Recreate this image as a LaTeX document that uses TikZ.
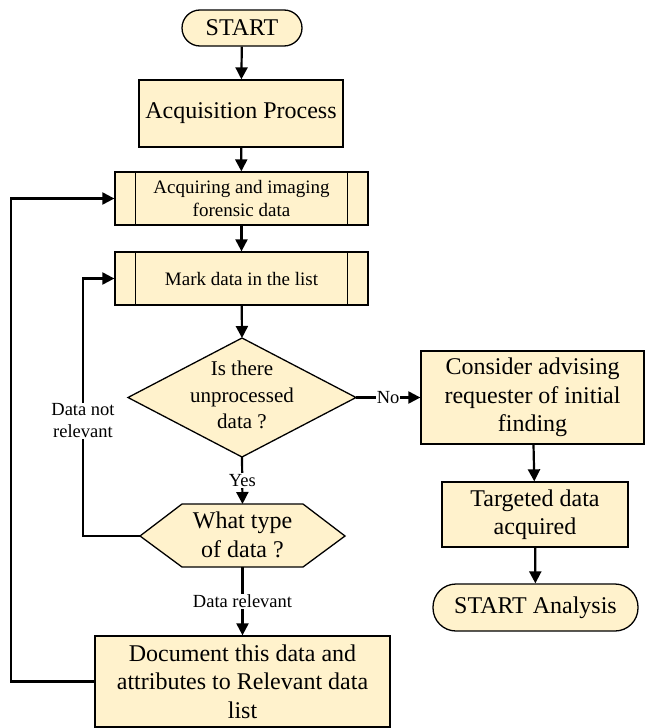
\documentclass[tikz,border=0pt]{standalone}
\usepackage{fontspec}
\setmainfont{Liberation Serif}
\newfontfamily\tnr{Liberation Serif}
\usetikzlibrary{arrows.meta,calc}
\definecolor{boxfill}{HTML}{FFF2CC}
\begin{document}
\begin{tikzpicture}[x=1pt,y=-1pt,
  box/.style={draw=black, line width=1.3pt, fill=boxfill, align=center, inner sep=0pt},
  bigtext/.style={font=\tnr\fontsize{24}{28.5}\selectfont},
  midtext/.style={font=\tnr\fontsize{21}{26.5}\selectfont},
  smalltext/.style={font=\tnr\fontsize{19}{23}\selectfont},
  conn/.style={line width=2.2pt, -{Triangle[length=12pt,width=12pt]}},
  lbl/.style={fill=white, inner sep=1pt, align=center, font=\tnr\fontsize{18.5}{22}\selectfont},
  predef/.style={line width=1.3pt}
]
\useasboundingbox (0,0) rectangle (645,728);

% terminal and processes
\node[box, bigtext, rounded corners=18pt, minimum width=120pt, minimum height=36pt] (start) at (242,28) {START};
\node[box, bigtext, minimum width=204pt, minimum height=67pt] (acq) at (241,113.5) {Acquisition Process};
\node[box, smalltext, minimum width=253pt, minimum height=53pt] (img) at (241.5,198.5) {Acquiring and imaging\\forensic data};
\draw[predef] ([xshift=21pt]img.north west) -- ([xshift=21pt]img.south west);
\draw[predef] ([xshift=-21pt]img.north east) -- ([xshift=-21pt]img.south east);
\node[box, smalltext, minimum width=253pt, minimum height=53pt] (mark) at (241.5,278.5) {Mark data in the list};
\draw[predef] ([xshift=21pt]mark.north west) -- ([xshift=21pt]mark.south west);
\draw[predef] ([xshift=-21pt]mark.north east) -- ([xshift=-21pt]mark.south east);

% decision diamond
\coordinate (dT) at (242,338);
\coordinate (dR) at (356,397.5);
\coordinate (dB) at (242,457);
\coordinate (dL) at (128,397.5);
\draw[box] (dT) -- (dR) -- (dB) -- (dL) -- cycle;
\node[midtext, align=center, inner sep=0pt] (dec) at (242,395) {Is there\\unprocessed\\data ?};

% hexagon
\coordinate (hL) at (140,536);
\coordinate (hTL) at (182,504);
\coordinate (hT) at (242.5,504);
\coordinate (hTR) at (303,504);
\coordinate (hR) at (345,536);
\coordinate (hBR) at (303,567);
\coordinate (hB) at (242.5,567);
\coordinate (hBL) at (182,567);
\draw[box] (hL) -- (hTL) -- (hTR) -- (hR) -- (hBR) -- (hBL) -- cycle;
\node[bigtext, align=center, inner sep=0pt] (hex) at (242.5,535) {What type\\of data ?};

% right column
\node[box, bigtext, minimum width=223pt, minimum height=93pt] (cons) at (532.5,397.5) {Consider advising\\requester of initial\\finding};
\node[box, bigtext, minimum width=186pt, minimum height=65pt] (targ) at (535,514.5) {Targeted data\\acquired};
\node[box, bigtext, rounded corners=23pt, minimum width=205pt, minimum height=47pt] (end) at (535.5,607.5) {START Analysis};

% document box
\node[box, bigtext, minimum width=295pt, minimum height=91pt] (doc) at (242.5,681.5) {Document this data and\\attributes to Relevant data\\list};

% connectors
\draw[conn] (start) -- (acq);
\draw[conn] (acq) -- (img);
\draw[conn] (img) -- (mark);
\draw[conn] (mark) -- (dT);
\draw[conn] (dR) -- (cons.west) node[lbl, midway] {No};
\draw[conn] (dB) -- (hT) node[lbl, midway] {Yes};
\draw[conn] (hB) -- (doc.north) node[lbl, midway] {Data relevant};
\draw[conn] (cons) -- (targ);
\draw[conn] (targ) -- (end);
\draw[conn] (hL) -- ++(-57,0) |- (mark.west);
\node[lbl] (notrel) at (83,421) {Data not\\relevant};
\draw[conn] (doc.west) -- ++(-83,0) |- (img.west);
\end{tikzpicture}
\end{document}
